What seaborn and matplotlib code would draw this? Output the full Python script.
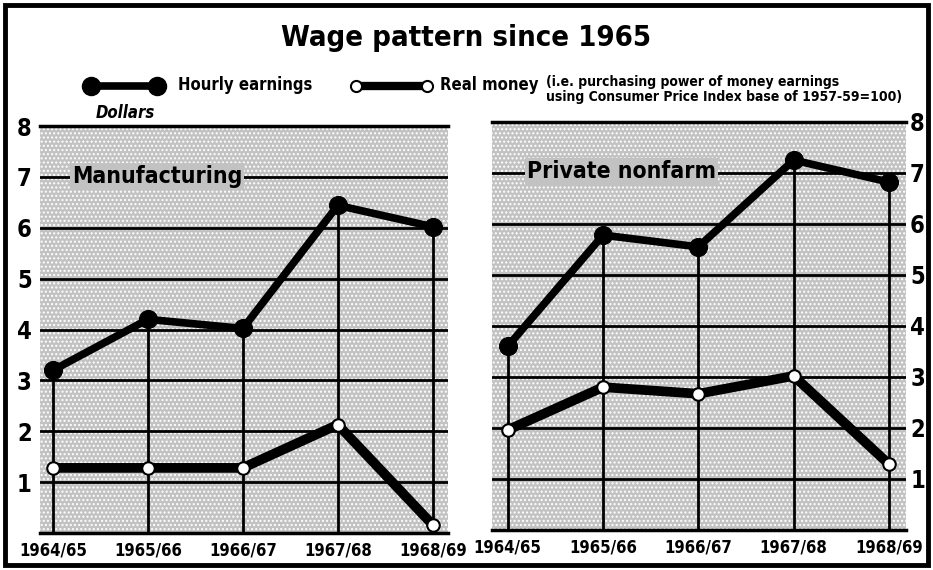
import pandas as pd
import seaborn as sns
import matplotlib.pyplot as plt
from matplotlib.lines import Line2D
from matplotlib.patches import Rectangle

years = ['1964/65', '1965/66', '1966/67', '1967/68', '1968/69']

manuf_hourly = [3.2, 4.2, 4.02, 6.44, 6.02]
manuf_real = [1.28, 1.28, 1.28, 2.13, 0.16]

nonfarm_hourly = [3.6, 5.78, 5.55, 7.25, 6.82]
nonfarm_real = [1.96, 2.8, 2.67, 3.02, 1.29]

yticks = [1, 2, 3, 4, 5, 6, 7, 8]

sns.set_style('white')
plt.rcParams['font.family'] = ['DejaVu Sans']
plt.rcParams['font.stretch'] = 'condensed'
plt.rcParams['font.weight'] = 'bold'
plt.rcParams['text.color'] = 'black'
plt.rcParams['xtick.color'] = 'black'
plt.rcParams['ytick.color'] = 'black'
plt.rcParams['hatch.color'] = '#7a7a7a'
plt.rcParams['hatch.linewidth'] = 1.0

fig = plt.figure(figsize=(9.33, 5.70), dpi=100)
fig.patch.set_facecolor('white')

# frame around the whole graphic
fig.patches.append(Rectangle((0.005, 0.008), 0.99, 0.984, transform=fig.transFigure,
                             fill=False, edgecolor='black', lw=3.5))

ax1 = fig.add_axes([0.0429, 0.0649, 0.437, 0.714])
ax2 = fig.add_axes([0.527, 0.0702, 0.444, 0.716])

bg = '#c2c2c2'


def panel(ax, hourly, real, right=False):
    df = pd.DataFrame({'x': range(len(years)), 'hourly': hourly, 'real': real})
    ax.set_facecolor(bg)
    ax.add_patch(Rectangle((0, 0), 1, 1, transform=ax.transAxes, facecolor='none',
                           hatch='....', lw=0, zorder=0))
    ax.vlines(df['x'], 0, df['hourly'], color='black', lw=2, zorder=2)
    sns.lineplot(data=df, x='x', y='real', ax=ax, color='black', lw=7,
                 marker='o', markersize=9, markerfacecolor='white',
                 markeredgecolor='black', markeredgewidth=1.5, zorder=4)
    sns.lineplot(data=df, x='x', y='hourly', ax=ax, color='black', lw=5.5,
                 marker='o', markersize=13, markerfacecolor='black',
                 markeredgecolor='black', zorder=5)
    ax.set_ylim(0, 8)
    ax.set_yticks(yticks)
    ax.set_xticks(range(len(years)))
    ax.set_xticklabels(years)
    ax.grid(axis='y', color='black', lw=2)
    ax.set_axisbelow(True)
    ax.set_xlabel('')
    ax.set_ylabel('')
    for s in ['left', 'right']:
        ax.spines[s].set_visible(False)
    for s in ['top', 'bottom']:
        ax.spines[s].set_color('black')
        ax.spines[s].set_linewidth(2.5)
    ax.tick_params(axis='both', length=0)
    ax.tick_params(axis='x', pad=6, labelsize=12)
    for t in ax.get_xticklabels() + ax.get_yticklabels():
        t.set_fontweight('bold')
    if right:
        ax.yaxis.tick_right()
        ax.tick_params(axis='y', labelsize=17, pad=3)
    else:
        ax.tick_params(axis='y', labelsize=17, pad=6)


panel(ax1, manuf_hourly, manuf_real)
ax1.set_xlim(-0.137, 4.158)
panel(ax2, nonfarm_hourly, nonfarm_real, right=True)
ax2.set_xlim(-0.168, 4.178)

ax1.text(0.2, 7.0, 'Manufacturing', fontsize=16.5, fontweight='bold', va='center',
         ha='left', bbox=dict(facecolor=bg, edgecolor='none', pad=1.5), zorder=3)
ax2.text(0.2, 7.03, 'Private nonfarm', fontsize=16.5, fontweight='bold', va='center',
         ha='left', bbox=dict(facecolor=bg, edgecolor='none', pad=1.5), zorder=3)
ax1.text(0.45, 8.08, 'Dollars', fontsize=12, fontweight='bold', style='italic',
         va='bottom', ha='left')

fig.text(0.5, 0.933, 'Wage pattern since 1965', ha='center', va='center',
         fontsize=21, fontweight='bold')

# legend row
leg_y = 0.85
fig.add_artist(Line2D([0.097, 0.168], [leg_y, leg_y], transform=fig.transFigure,
                      color='black', lw=5.5, marker='o', markersize=13,
                      markerfacecolor='black'))
fig.text(0.191, leg_y, 'Hourly earnings', fontsize=12, fontweight='bold', va='center')
fig.add_artist(Line2D([0.382, 0.458], [leg_y, leg_y], transform=fig.transFigure,
                      color='black', lw=6, marker='o', markersize=8,
                      markerfacecolor='white', markeredgewidth=1.5))
fig.text(0.4716, leg_y, 'Real money', fontsize=12, fontweight='bold', va='center')
fig.text(0.585, 0.843, '(i.e. purchasing power of money earnings\n'
         'using Consumer Price Index base of 1957-59=100)',
         fontsize=10, fontweight='bold', va='center', linespacing=1.05)

fig.savefig('out.png', dpi=100)
